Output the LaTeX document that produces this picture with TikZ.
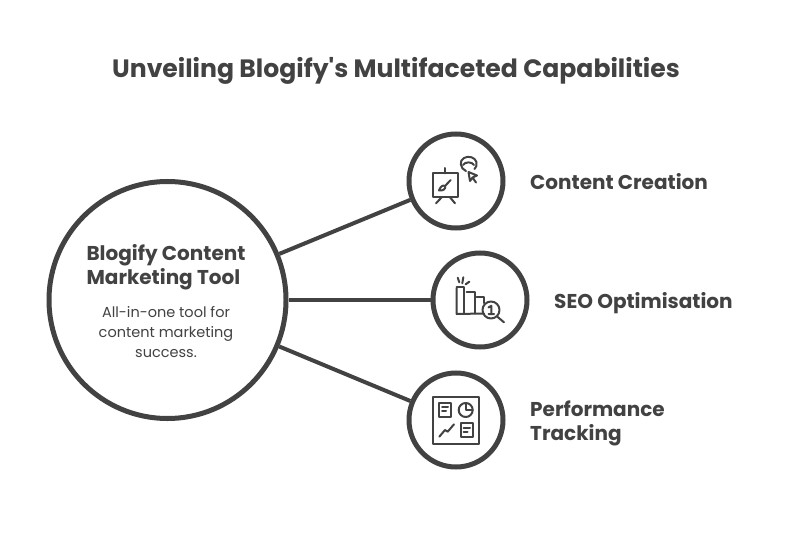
\documentclass[tikz,border=0pt]{standalone}
\usepackage{fontspec}
\setmainfont{Poppins}[Ligatures=TeXOff]
\definecolor{ink}{HTML}{424242}
\tikzset{
  bigc/.style={circle,draw=ink,line width=5pt,inner sep=0pt,minimum size=#1,fill=white},
  conn/.style={draw=ink,line width=4pt},
  ico/.style={draw=ink,line width=2pt,line cap=round,line join=round},
  head/.style={text=ink,font=\bfseries\fontsize{20}{24}\selectfont,align=left,anchor=west,inner sep=0pt},
}
\begin{document}
\begin{tikzpicture}[x=1pt,y=-1pt]
\useasboundingbox (0,0) rectangle (792,540);
\fill[white] (0,0) rectangle (792,540);
\node[text=ink,font=\bfseries\fontsize{25.1}{28}\selectfont,inner sep=0pt] (title) at (396,71) {Unveiling Blogify's Multifaceted Capabilities};
\node[bigc=237pt] (main) at (167.5,300) {};
\node[bigc=94pt] (c1) at (456,181) {};
\node[bigc=94pt] (c2) at (480,300) {};
\node[bigc=94pt] (c3) at (456,420) {};
\draw[conn] (main) -- (c1);
\draw[conn] (main) -- (c2);
\draw[conn] (main) -- (c3);
\node[text=ink,font=\bfseries\fontsize{20}{24}\selectfont,align=left,inner sep=0pt] (mt) at (166,267) {Blogify Content\\Marketing Tool};
\node[text=ink,font=\fontsize{14.5}{20}\selectfont,align=center,inner sep=0pt] (md) at (166,332) {All-in-one tool for\\content marketing\\success.};
\node[head] (l1) at (530,181.5) {Content Creation};
\node[head] (l2) at (554,303) {SEO Optimisation};
\node[head] (l3) at (530,423) {Performance\\Tracking};
% icon 1
\draw[ico] (433.3,173.3) rectangle (458.3,197.3);
\draw[ico] (445,168) -- (445,173.3);
\draw[ico] (441.7,197.3) -- (436,203.3);
\draw[ico] (450,197.3) -- (455,203.3);
\draw[ico] (450.7,180) -- (445,186);
\draw[ico] (445,186) .. controls (443,184.5) and (440,187) .. (439,190.5) .. controls (443,191) and (446,189) .. (445,186);
\draw[ico] (466,171) .. controls (460,169) and (459,160) .. (464,158) .. controls (468,155.5) and (475,157) .. (476.5,162) .. controls (477,165) and (476,168) .. (474.5,169);
\draw[ico] (463,165) .. controls (465,161.5) and (472,161.5) .. (474,165);
\draw[ico] (468.5,172) -- (470,181) -- (472.5,177.5) -- (476,182.5) (472.5,177.5) -- (477,175.5) -- (468.5,172);
% icon 2
\draw[ico] (456.7,288) -- (456.7,314) -- (484,313.5);
\draw[ico] (456.7,286.7) -- (464.3,286.7) -- (464.3,314);
\draw[ico] (466.7,291.7) -- (474.5,291.7) -- (474.5,313.5);
\draw[ico] (476.7,296.7) -- (484,296.7) -- (484,303);
\draw[ico] (491,310) circle (8.5);
\draw[ico] (497.3,316.7) -- (504,322.3);
\draw[ico] (488.5,307.5) -- (491.3,305.8) -- (491.3,314) (488.5,314) -- (494,314);
\draw[ico] (457.7,277.7) -- (459.3,282.3);
\draw[ico] (463.3,277.3) -- (462.3,283.3);
\draw[ico] (469.3,281.7) -- (465.7,284.3);
% icon 3
\draw[ico,line width=2.3pt] (432.7,397.3) rectangle (479.3,444.3);
\draw[ico] (439.3,402.7) rectangle (450.7,416.7);
\draw[ico] (442,406.8) -- (448,406.8) (442,411) -- (446,411);
\draw[ico] (465.7,410) circle (7);
\draw[ico] (465.7,403) -- (465.7,410) -- (472.7,410);
\draw[ico] (439.3,436.7) -- (445,430) -- (447.7,431.7) -- (454,424.3);
\draw[ico] (460.7,423.3) rectangle (472.7,437.3);
\draw[ico] (463.5,428) -- (470,428) (463.5,432) -- (467.5,432);
\end{tikzpicture}
\end{document}
